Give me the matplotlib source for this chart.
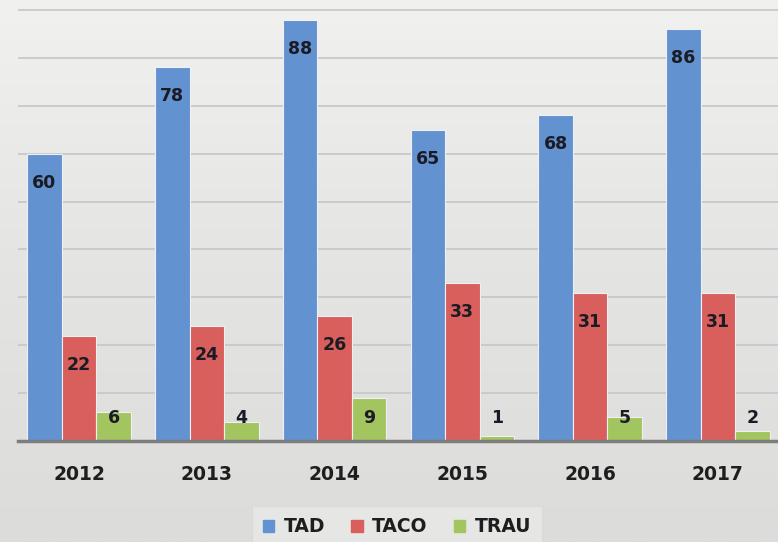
import numpy as np
import matplotlib
matplotlib.use("Agg")
import matplotlib.pyplot as plt
from matplotlib.patches import Rectangle

years = ["2012", "2013", "2014", "2015", "2016", "2017"]
tad = [60, 78, 88, 65, 68, 86]
taco = [22, 24, 26, 33, 31, 31]
trau = [6, 4, 9, 1, 5, 2]
series_names = ["TAD", "TACO", "TRAU"]
colors = ["#6392d0", "#d95f5c", "#a3c55f"]

W, H, DPI = 778, 542, 100
fig = plt.figure(figsize=(W / DPI, H / DPI), dpi=DPI)

# soft grey backdrop, a little lighter towards the top
bg = fig.add_axes([0, 0, 1, 1], zorder=-10)
grad = np.linspace(0, 1, 256).reshape(-1, 1)
bg.imshow(grad, aspect="auto", cmap=matplotlib.colors.LinearSegmentedColormap.from_list(
    "bgc", ["#f1f1f0", "#e4e4e3", "#dcdcdb"]), extent=[0, 1, 0, 1], origin="upper")
bg.set_axis_off()

base_px = 441
px_per_unit = (441 - 10) / 90
ax = fig.add_axes([18 / W, (H - base_px) / H, 1 - 18 / W, base_px / H])
ax.set_facecolor("none")
ax.set_ylim(0, base_px / px_per_unit)
ax.set_xlim(-0.477, 5.47)

x = np.arange(len(years))
bw = 0.27
label_drop = 29 / px_per_unit
for k, (vals, col) in enumerate(zip([tad, taco, trau], colors)):
    xs = x + (k - 1) * bw
    ax.bar(xs, vals, width=bw, color=col, zorder=3, edgecolor="#eef0f4", linewidth=0.8)
    for xi, v in zip(xs, vals):
        y = v - label_drop if v - label_drop > 4.8 else 4.8
        ax.text(xi, y, str(v), ha="center", va="center", fontsize=12.5,
                fontweight="bold", color="#1b1b26", zorder=5)

ax.set_yticks(np.arange(10, 100, 10))
ax.yaxis.grid(True, color="#c6c6c6", linewidth=1.2, zorder=0)
ax.set_yticklabels([])
ax.tick_params(axis="y", length=0)
ax.set_xticks(x)
ax.set_xticklabels(years, fontsize=13.5, fontweight="bold", color="#1e1e1e")
ax.tick_params(axis="x", length=0, pad=17)
for s in ["top", "right", "left"]:
    ax.spines[s].set_visible(False)
ax.spines["bottom"].set_color("#7d7d7d")
ax.spines["bottom"].set_linewidth(2.5)
ax.spines["bottom"].set_zorder(4)

handles = [Rectangle((0, 0), 1, 1, color=c) for c in colors]
leg = fig.legend(handles, series_names, loc="center", bbox_to_anchor=(397 / W, 1 - 527 / H),
                 ncol=3, frameon=True, fontsize=13.5, handlelength=0.6, handleheight=0.6,
                 handletextpad=0.5, columnspacing=1.4, borderpad=0.6)
for t in leg.get_texts():
    t.set_fontweight("bold")
    t.set_color("#1e1e1e")
leg.get_frame().set_facecolor("#e9e9e8")
leg.get_frame().set_edgecolor("#dadada")
leg.get_frame().set_boxstyle("square", pad=0)

fig.savefig("out.png", dpi=DPI)
